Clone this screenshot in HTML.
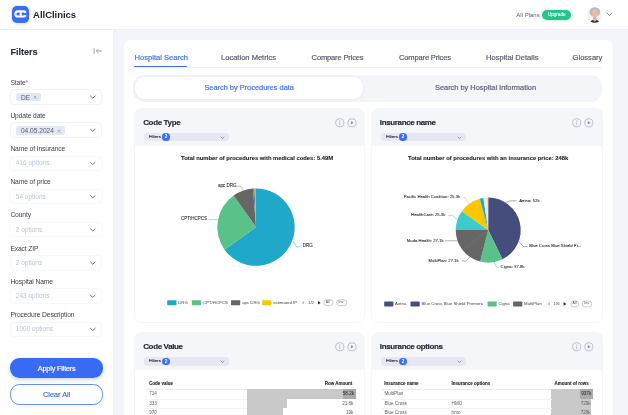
<!DOCTYPE html>
<html>
<head>
<meta charset="utf-8">
<title>AllClinics</title>
<style>
*{box-sizing:border-box;margin:0;padding:0}
html,body{width:628px;height:415px;overflow:hidden}
body{font-family:"Liberation Sans",sans-serif;background:#f4f5fa;color:#2b2e3a;position:relative;-webkit-font-smoothing:antialiased}
.abs{position:absolute}
.t{position:absolute;white-space:nowrap;line-height:1}
/* header */
#hdr{left:0;top:0;width:628px;height:29.5px;background:#fff;border-bottom:1px solid #eff0f5}
#logo{left:12px;top:6px;width:17px;height:17px;border-radius:4.8px;background:#3a6cf6;box-shadow:0 0.5px 3px rgba(61,110,247,.28)}
#brand{left:33.1px;top:9.9px;font-size:9.5px;font-weight:bold;color:#1d2030;letter-spacing:-0.03px}
#plans{left:516.3px;top:11.5px;font-size:6px;color:#5b6070}
#upg{left:542.2px;top:9.8px;width:29px;height:10.4px;border-radius:5px;background:#22c58b;color:#fff;font-size:4.6px;text-align:center;line-height:10.4px;box-shadow:0 0.5px 3px rgba(34,197,139,.35);-webkit-text-stroke:0.1px #fff}
#ava{left:586.5px;top:6.7px;width:16px;height:16px}
/* sidebar */
#side{left:0;top:30px;width:113px;height:385px;background:#fff;box-shadow:1px 0 5px rgba(110,120,170,.06)}
#ftitle{left:10.4px;top:47.9px;font-size:9.2px;font-weight:bold;color:#2a2d3a;letter-spacing:-0.07px;-webkit-text-stroke:0.12px currentColor}
.lbl{left:10.4px;font-size:6.7px;color:#3a3e4c;letter-spacing:-0.1px}
.sel{left:10.4px;width:92px;height:15.6px;border:1px solid #f2f3f8;border-radius:4px;background:#fff}
.sel.f{border-color:#f7f8fc}
.ph{left:15.8px;font-size:6.5px;color:#bcc2df}
.tag{height:8.8px;border-radius:2.6px;background:#e4e8f4;color:#555a6c;font-size:6.6px;line-height:9px;padding-left:4.5px}
.btn{left:10.2px;width:93px;height:20.2px;border-radius:9.5px;font-size:7.3px;text-align:center;line-height:21.4px;-webkit-text-stroke:0.18px currentColor}
#apply{top:357.8px;background:#3a6bf5;color:#fff;box-shadow:0 1.5px 4px rgba(61,110,247,.3);letter-spacing:-0.18px}
#clear{top:383.8px;height:20.9px;background:#fff;color:#3d6ef7;border:0.9px solid #6a8df6;line-height:20.4px}
/* main */
#main{left:124px;top:40px;width:489px;height:390px;background:#fff;border-radius:7px}
.tab{top:53.9px;font-size:7.55px;color:#555a6b;-webkit-text-stroke:0.18px currentColor}
.tab.on{color:#3d6ef7}
#tabline{left:134px;top:66.8px;width:467.5px;height:0.8px;background:#f0f1f6}
#tabon{left:134.3px;top:65.7px;width:53px;height:1.6px;background:#3d6ef7;border-radius:1px}
#sub{left:132.6px;top:75.2px;width:469.6px;height:26.4px;border-radius:11px;background:#f4f5f9}
#subon{left:134.6px;top:77.2px;width:228.6px;height:22.2px;border-radius:9.5px;background:#fff;box-shadow:0 0.5px 3px rgba(40,50,90,.07)}
.st{top:84.4px;font-size:7.4px;-webkit-text-stroke:0.18px currentColor}
.card{background:#f5f6fa;border-radius:7px}
.panel{background:#fff}
.ct{font-size:8px;font-weight:bold;color:#242736;letter-spacing:-0.36px;-webkit-text-stroke:0.15px currentColor}
.pill{height:8.6px;border-radius:3.4px;background:#e5e8f2;width:85px}
.pill .ft{left:4.9px;top:2.1px;font-size:4.4px;color:#23252f;-webkit-text-stroke:0.12px #23252f}
.pill .bd{left:18.4px;top:0.7px;width:7.2px;height:7.2px;border-radius:50%;background:#3d6ef7;color:#fff;font-size:4.6px;line-height:7.2px;text-align:center;font-weight:bold}
.chtitle{font-size:5.85px;font-weight:bold;color:#1a1a1a;-webkit-text-stroke:0.08px #1a1a1a}
.lg{font-size:4.3px;color:#444}
.th{font-size:4.5px;font-weight:bold;color:#262626;-webkit-text-stroke:0.1px #262626}
.td{font-size:4.6px;color:#606060}
.bar{background:#c9c9c9}
.pl{font-size:4.5px;color:#262626;-webkit-text-stroke:0.07px #262626}
.p2{font-size:4.25px}
.lg2{font-size:3.6px;color:#555}
.so{color:#c4c4c4;font-weight:normal;font-size:3.8px;-webkit-text-stroke:0 transparent}
</style>
</head>
<body>
<div id="wrap" style="position:absolute;left:0;top:0;width:628px;height:415px;will-change:transform">
<!-- HEADER -->
<div id="hdr" class="abs"></div>
<div id="logo" class="abs">
<svg width="17" height="17" viewBox="12 6 17 17"><g fill="none" stroke="#fff" stroke-width="2.1" stroke-linecap="butt"><path d="M25.75 12.7A2.6 2.6 0 0 0 23.2 11.35H17.95A2.6 2.6 0 0 0 17.95 16.55H23.2A2.6 2.6 0 0 0 25.75 15.2"/><path d="M20.6 11.35V16.55"/></g></svg>
</div>
<div id="brand" class="t">AllClinics</div>
<div id="plans" class="t">All Plans</div>
<div id="upg" class="abs">Upgrade</div>
<div id="ava" class="abs">
<svg width="16" height="16" viewBox="586.5 6.7 16 16"><defs><clipPath id="avc"><circle cx="594.3" cy="14.7" r="7.8"/></clipPath></defs><g clip-path="url(#avc)"><rect x="586" y="6" width="17" height="17" fill="#f6f4f3"/><ellipse cx="594.3" cy="11.6" rx="5.3" ry="4.9" fill="#c3bab5"/><path d="M589.2 23C589.4 20.6 591.6 19.8 592.8 19.6L594.3 21.3L595.8 19.6C597 19.8 599.2 20.6 599.4 23Z" fill="#2b2b30"/><path d="M592.7 16H595.9V19.8L594.3 21.4L592.7 19.8Z" fill="#dcae98"/><ellipse cx="594.3" cy="13.2" rx="2.9" ry="4.1" fill="#e4bba7"/><path d="M591.3 11.6C591.6 8.6 597 8.6 597.3 11.6C596.4 10.3 592.2 10.3 591.3 11.6Z" fill="#cfc7c2"/></g></svg>
</div>
<svg class="abs" style="left:605.5px;top:12.2px" width="7" height="5" viewBox="0 0 7 5"><path d="M1 1L3.5 3.5L6 1" fill="none" stroke="#777d90" stroke-width="0.85" stroke-linecap="round" stroke-linejoin="round"/></svg>

<!-- SIDEBAR -->
<div id="side" class="abs"></div>
<div id="ftitle" class="t">Filters</div>
<svg class="abs" style="left:92.5px;top:47.4px" width="10" height="8" viewBox="0 0 10 8"><g fill="none" stroke="#858b9e" stroke-width="0.75" stroke-linecap="round" stroke-linejoin="round"><path d="M1.2 1.4V6.6"/><path d="M3.3 4H8.6"/><path d="M5.1 2.2L3.3 4L5.1 5.8"/></g></svg>

<div class="t lbl" style="top:79.5px">State<span style="color:#e2555c">*</span></div>
<div class="abs sel" style="top:89.1px"></div>
<div class="abs tag" style="left:16.4px;top:92.6px;width:24.2px">DE<span style="color:#8a90a6;font-size:5.2px;margin-left:3px;position:relative;top:-0.3px">✕</span></div>
<div class="t lbl" style="top:112.7px">Update date</div>
<div class="abs sel" style="top:122.3px"></div>
<div class="abs tag" style="left:16.4px;top:125.8px;width:48.2px">04.05.2024<span style="color:#8a90a6;font-size:5.2px;margin-left:3px;position:relative;top:-0.3px">✕</span></div>

<div class="t lbl" style="top:145.9px">Name of Insurance</div>
<div class="abs sel f" style="top:155.5px"></div>
<div class="t ph" style="top:160.3px">416 options</div>
<div class="t lbl" style="top:179.1px">Name of price</div>
<div class="abs sel f" style="top:188.7px"></div>
<div class="t ph" style="top:193.5px">54 options</div>
<div class="t lbl" style="top:212.3px">County</div>
<div class="abs sel f" style="top:221.9px"></div>
<div class="t ph" style="top:226.8px">2 options</div>
<div class="t lbl" style="top:245.5px">Exact ZIP</div>
<div class="abs sel f" style="top:255.1px"></div>
<div class="t ph" style="top:259.9px">2 options</div>
<div class="t lbl" style="top:278.7px">Hospital Name</div>
<div class="abs sel f" style="top:288.3px"></div>
<div class="t ph" style="top:293.2px">243 options</div>
<div class="t lbl" style="top:311.9px">Procedure Description</div>
<div class="abs sel f" style="top:321.5px"></div>
<div class="t ph" style="top:326.4px">1000 options</div>

<svg class="abs" style="left:0;top:0" width="114" height="415" viewBox="0 0 114 415"><g fill="none" stroke="#60667a" stroke-width="0.95" stroke-linecap="round" stroke-linejoin="round">
<path d="M90.5 96.0l2.3 2.2l2.3-2.2"/><path d="M90.5 129.2l2.3 2.2l2.3-2.2"/><path d="M90.5 162.4l2.3 2.2l2.3-2.2"/><path d="M90.5 195.6l2.3 2.2l2.3-2.2"/><path d="M90.5 228.8l2.3 2.2l2.3-2.2"/><path d="M90.5 262.0l2.3 2.2l2.3-2.2"/><path d="M90.5 295.2l2.3 2.2l2.3-2.2"/><path d="M90.5 328.4l2.3 2.2l2.3-2.2"/></g></svg>

<div id="apply" class="abs btn">Apply Filters</div>
<div id="clear" class="abs btn">Clear All</div>

<!-- MAIN -->
<div id="main" class="abs"></div>
<div id="tabline" class="abs"></div>
<div id="tabon" class="abs"></div>
<div class="t tab on" style="left:134.6px">Hospital Search</div>
<div class="t tab" style="left:221px">Location Metrics</div>
<div class="t tab" style="left:311.6px;letter-spacing:-0.16px">Compare Prices</div>
<div class="t tab" style="left:399px;letter-spacing:-0.16px">Compare Prices</div>
<div class="t tab" style="left:486px">Hospital Details</div>
<div class="t tab" style="left:572.6px">Glossary</div>
<div id="sub" class="abs"></div>
<div id="subon" class="abs"></div>
<div class="t st" style="left:204.4px;color:#3d6ef7">Search by Procedures data</div>
<div class="t st" style="left:435px;color:#585d72">Search by Hospital Information</div>

<!-- CARD 1 -->
<div class="abs card" style="left:134.2px;top:108.3px;width:231.2px;height:214.4px"></div>
<div class="abs panel" style="left:135.2px;top:145.6px;width:229.2px;height:176.2px;border-radius:0 0 6px 6px"></div>
<div class="t ct" style="left:143.2px;top:119.1px">Code Type</div>
<div class="abs pill" style="left:144px;top:132.8px"><div class="t ft">Filters</div><div class="abs bd">2</div>
<svg class="abs" style="left:75.6px;top:2.8px" width="5" height="3.4" viewBox="0 0 5 3.4"><path d="M0.7 0.8L2.5 2.5L4.3 0.8" fill="none" stroke="#6a7085" stroke-width="0.7"/></svg></div>
<div class="t chtitle" style="left:181px;top:155.8px">Total number of procedures with medical codes: 5.49M</div>

<!-- CARD 2 -->
<div class="abs card" style="left:371.3px;top:108.3px;width:231.4px;height:214.4px"></div>
<div class="abs panel" style="left:372.3px;top:145.6px;width:229.4px;height:176.2px;border-radius:0 0 6px 6px"></div>
<div class="t ct" style="left:379.8px;top:119.2px">Insurance name</div>
<div class="abs pill" style="left:381px;top:132.8px"><div class="t ft">Filters</div><div class="abs bd">2</div>
<svg class="abs" style="left:75.6px;top:2.8px" width="5" height="3.4" viewBox="0 0 5 3.4"><path d="M0.7 0.8L2.5 2.5L4.3 0.8" fill="none" stroke="#6a7085" stroke-width="0.7"/></svg></div>
<div class="t chtitle" style="left:408px;top:155.8px">Total number of procedures with an insurance price: 248k</div>

<!-- CARD 3 -->
<div class="abs card" style="left:134.2px;top:332.3px;width:231.2px;height:100px"></div>
<div class="abs panel" style="left:135.2px;top:369.8px;width:229.2px;height:60px"></div>
<div class="t ct" style="left:143.2px;top:343.3px">Code Value</div>
<div class="abs pill" style="left:144px;top:357.1px"><div class="t ft">Filters</div><div class="abs bd">2</div>
<svg class="abs" style="left:75.6px;top:2.8px" width="5" height="3.4" viewBox="0 0 5 3.4"><path d="M0.7 0.8L2.5 2.5L4.3 0.8" fill="none" stroke="#6a7085" stroke-width="0.7"/></svg></div>

<!-- CARD 4 -->
<div class="abs card" style="left:371.3px;top:332.3px;width:231.4px;height:100px"></div>
<div class="abs panel" style="left:372.3px;top:369.8px;width:229.4px;height:60px"></div>
<div class="t ct" style="left:379.8px;top:343.3px">Insurance options</div>
<div class="abs pill" style="left:381px;top:357.1px"><div class="t ft">Filters</div><div class="abs bd">2</div>
<svg class="abs" style="left:75.6px;top:2.8px" width="5" height="3.4" viewBox="0 0 5 3.4"><path d="M0.7 0.8L2.5 2.5L4.3 0.8" fill="none" stroke="#6a7085" stroke-width="0.7"/></svg></div>

<svg class="abs" style="left:0;top:0;pointer-events:none" width="628" height="415" viewBox="0 0 628 415">
<g id="hicons" fill="none" stroke="#8e94a8" stroke-width="0.55">
<g id="ic"><circle cx="339.8" cy="122.8" r="4.05"/><path d="M339.8 122.2V124.8M339.8 120.7V121.1" stroke-linecap="round"/><circle cx="352" cy="122.8" r="4.05"/><path d="M350.9 121L353.7 122.8L350.9 124.6Z" fill="#8e94a8" stroke="none"/></g>
<g transform="translate(236.9 0)"><circle cx="339.8" cy="122.8" r="4.05"/><path d="M339.8 122.2V124.8M339.8 120.7V121.1" stroke-linecap="round"/><circle cx="352" cy="122.8" r="4.05"/><path d="M350.9 121L353.7 122.8L350.9 124.6Z" fill="#8e94a8" stroke="none"/></g><g transform="translate(0 224)"><circle cx="339.8" cy="122.8" r="4.05"/><path d="M339.8 122.2V124.8M339.8 120.7V121.1" stroke-linecap="round"/><circle cx="352" cy="122.8" r="4.05"/><path d="M350.9 121L353.7 122.8L350.9 124.6Z" fill="#8e94a8" stroke="none"/></g><g transform="translate(236.9 224)"><circle cx="339.8" cy="122.8" r="4.05"/><path d="M339.8 122.2V124.8M339.8 120.7V121.1" stroke-linecap="round"/><circle cx="352" cy="122.8" r="4.05"/><path d="M350.9 121L353.7 122.8L350.9 124.6Z" fill="#8e94a8" stroke="none"/></g>
</g>
<!-- pies -->
<path d="M256 227.1L256.00 188.40A38.7 38.7 0 1 1 224.53 249.63Z" fill="#1FA8C9"/>
<path d="M256 227.1L224.53 249.63A38.7 38.7 0 0 1 233.58 195.55Z" fill="#5AC189"/>
<path d="M256 227.1L233.58 195.55A38.7 38.7 0 0 1 253.03 188.51Z" fill="#666666"/>
<path d="M256 227.1L253.03 188.51A38.7 38.7 0 0 1 254.65 188.42Z" fill="#6f7f95"/>
<path d="M256 227.1L254.65 188.42A38.7 38.7 0 0 1 255.53 188.40Z" fill="#FCC700"/>
<path d="M256 227.1L255.53 188.40A38.7 38.7 0 0 1 256.00 188.40Z" fill="#E04355"/>
<!-- pie2 -->
<path d="M488.2 230.1L488.20 197.60A32.5 32.5 0 0 1 502.45 259.31Z" fill="#444d7c"/>
<path d="M488.2 230.1L502.45 259.31A32.5 32.5 0 0 1 480.17 261.59Z" fill="#5AC189"/>
<path d="M488.2 230.1L480.17 261.59A32.5 32.5 0 0 1 455.70 230.10Z" fill="#666666"/>
<path d="M488.2 230.1L462.59 250.11" stroke="#7c7c7c" stroke-width="0.35" fill="none"/>
<path d="M488.2 230.1L455.70 230.10A32.5 32.5 0 0 1 461.81 211.13Z" fill="#3CCCCB"/>
<path d="M488.2 230.1L461.81 211.13A32.5 32.5 0 0 1 479.79 198.71Z" fill="#FCC700"/>
<path d="M488.2 230.1L479.79 198.71A32.5 32.5 0 0 1 483.40 197.96Z" fill="#1FA8C9"/>
<path d="M488.2 230.1L483.40 197.96A32.5 32.5 0 0 1 485.09 197.75Z" fill="#d1f0ee"/>
<path d="M488.2 230.1L485.09 197.75A32.5 32.5 0 0 1 486.78 197.63Z" fill="#fde6c9"/>
<path d="M488.2 230.1L486.78 197.63A32.5 32.5 0 0 1 488.20 197.60Z" fill="#f7d3d0"/>

<!-- leader lines pie1 -->
<g fill="none" stroke-width="0.5">
<path d="M243.2 190.6L240.6 186.2H236.4" stroke="#888"/>
<path d="M217.6 219.6H208.8" stroke="#5AC189"/>
<path d="M292.8 241.4L296.6 246.7H300.4" stroke="#1FA8C9"/>
<!-- pie2 -->
<path d="M505.4 202.5L510.4 200.8H516.4" stroke="#454E7C"/>
<path d="M518.8 241.2L523.2 246.4H527.4" stroke="#454E7C"/>
<path d="M494.2 262L496.4 267.2H499.2" stroke="#5AC189"/>
<path d="M469.8 257L466.2 261H461.8" stroke="#666"/>
<path d="M457.4 240.8H445" stroke="#666"/>
<path d="M457 219.6L452.6 215.4H448" stroke="#3CCCCB"/>
<path d="M468.8 204L465 197.7H462.4" stroke="#FCC700"/>
</g>
<!-- legend swatches 1 -->
<g>
<rect x="167.2" y="300.2" width="9.2" height="5" rx="0.6" fill="#1FA8C9"/>
<rect x="191.8" y="300.2" width="9.2" height="5" rx="0.6" fill="#5AC189"/>
<rect x="231" y="300.2" width="9.2" height="5" rx="0.6" fill="#666666"/>
<rect x="262.2" y="300.2" width="9.2" height="5" rx="0.6" fill="#FCC700"/>
<path d="M304.2 300.9V304.5L301.6 302.7Z" fill="#bbb"/>
<path d="M318 300.9V304.5L320.6 302.7Z" fill="#222"/>
<rect x="323.8" y="299.8" width="9.2" height="5.8" rx="2.9" fill="#fff" stroke="#8a8a8a" stroke-width="0.45"/>
<rect x="336.6" y="299.8" width="10.2" height="5.8" rx="2.9" fill="#fff" stroke="#8a8a8a" stroke-width="0.45"/>
</g>
<!-- legend swatches 2 -->
<g>
<rect x="384.2" y="301.4" width="9.2" height="5" rx="0.6" fill="#454E7C"/>
<rect x="410.5" y="301.4" width="9.2" height="5" rx="0.6" fill="#434c7d"/>
<rect x="487.5" y="301.4" width="9.2" height="5" rx="0.6" fill="#5AC189"/>
<rect x="513.1" y="301.4" width="9.2" height="5" rx="0.6" fill="#666666"/>
<path d="M550 302.1V305.7L547.4 303.9Z" fill="#bbb"/>
<path d="M563.6 302.1V305.7L566.2 303.9Z" fill="#222"/>
<rect x="570.8" y="301" width="8" height="5.8" rx="2.9" fill="#fff" stroke="#8a8a8a" stroke-width="0.45"/>
<rect x="582" y="301" width="9.8" height="5.8" rx="2.9" fill="#fff" stroke="#8a8a8a" stroke-width="0.45"/>
</g>
</svg>
<!-- pie labels -->
<div class="t pl" style="left:218.1px;top:183.8px">apc DRG</div>
<div class="t pl" style="left:181px;top:217.2px">CPT/HCPCS</div>
<div class="t pl" style="left:302.8px;top:244.4px">DRG</div>
<div class="t pl p2" style="left:403.7px;top:195.4px">Pacific Health Coalition: 25.3k</div>
<div class="t pl p2" style="left:411.1px;top:213.1px">HealthCare: 25.3k</div>
<div class="t pl p2" style="left:406.8px;top:238.5px">Moda Health: 27.1k</div>
<div class="t pl p2" style="left:428.5px;top:258.7px">MultiPlan: 27.1k</div>
<div class="t pl p2" style="left:500.6px;top:264.9px">Cigna: 37.8k</div>
<div class="t pl p2" style="left:529.2px;top:244.1px">Blue Cross Blue Shield Pr...</div>
<div class="t pl p2" style="left:519.2px;top:198.5px">Aetna: 52k</div>
<!-- legends text -->
<div class="t lg" style="left:178.2px;top:300.6px">DRG</div>
<div class="t lg" style="left:203px;top:300.6px">CPT/HCPCS</div>
<div class="t lg" style="left:242.2px;top:300.6px">apc DRG</div>
<div class="t lg" style="left:273.2px;top:300.6px">estimated IP</div>
<div class="t lg" style="left:308px;top:300.6px">1/2</div>
<div class="t lg2" style="left:325.8px;top:301.2px">All</div>
<div class="t lg2" style="left:338.6px;top:301.2px">Inv</div>
<div class="t lg" style="left:395.1px;top:301.8px">Aetna</div>
<div class="t lg" style="left:421.5px;top:301.8px">Blue Cross Blue Shield Premera</div>
<div class="t lg" style="left:498.4px;top:301.8px">Cigna</div>
<div class="t lg" style="left:524.1px;top:301.8px">MultiPlan</div>
<div class="t lg" style="left:553.6px;top:301.8px">1/6</div>
<div class="t lg2" style="left:572.6px;top:302.4px">All</div>
<div class="t lg2" style="left:584.2px;top:302.4px">Inv</div>

<!-- TABLE 1 -->
<div class="abs" style="left:145px;top:388.6px;width:211px;height:0.5px;background:#ebebeb"></div>
<div class="abs bar" style="left:247.3px;top:389.1px;width:108.5px;height:9.8px"></div>
<div class="abs" style="left:342.7px;top:389.1px;width:13.1px;height:9.7px;background:#aaa"></div>
<div class="abs bar" style="left:247.3px;top:398.8px;width:39.6px;height:9.7px"></div>
<div class="abs bar" style="left:247.3px;top:408.4px;width:36px;height:9.7px"></div>
<div class="abs" style="left:145px;top:398.7px;width:102px;height:0.4px;background:#f3f3f3"></div>
<div class="abs" style="left:145px;top:408.3px;width:102px;height:0.4px;background:#f3f3f3"></div>
<div class="t th" style="left:149px;top:382.2px">Code value <span class="so">↕</span></div>
<div class="t th" style="left:324.7px;top:382.2px">Row Amount <span class="so">↕</span></div>
<div class="t td" style="left:149.2px;top:392px">714</div>
<div class="t td" style="left:149.2px;top:401.6px">333</div>
<div class="t td" style="left:149.2px;top:411.2px">970</div>
<div class="t td r" style="right:274px;top:392px;color:#222">58.2k</div>
<div class="t td r" style="right:274.6px;top:401.6px">21.8k</div>
<div class="t td r" style="right:274.6px;top:411.2px">19k</div>

<!-- TABLE 2 -->
<div class="abs" style="left:381.5px;top:388.6px;width:211.5px;height:0.5px;background:#ebebeb"></div>
<div class="abs bar" style="left:550.8px;top:389.1px;width:41.8px;height:9.8px"></div>
<div class="abs" style="left:580px;top:389.1px;width:12.6px;height:9.7px;background:#aaa"></div>
<div class="abs bar" style="left:550.8px;top:398.8px;width:40.2px;height:9.7px"></div>
<div class="abs bar" style="left:550.8px;top:408.4px;width:40.2px;height:9.7px"></div>
<div class="abs" style="left:381.5px;top:398.7px;width:170px;height:0.4px;background:#f3f3f3"></div>
<div class="abs" style="left:381.5px;top:408.3px;width:170px;height:0.4px;background:#f3f3f3"></div>
<div class="t th" style="left:384.2px;top:382.2px">Insurance name <span class="so">↕</span></div>
<div class="t th" style="left:451.4px;top:382.2px">Insurance options <span class="so">↕</span></div>
<div class="t th" style="left:554.5px;top:382.2px">Amount of rows <span class="so">↕</span></div>
<div class="t td" style="left:384.4px;top:392px">MultiPlan</div>
<div class="t td" style="left:384.4px;top:401.6px">Blue Cross</div>
<div class="t td" style="left:384.4px;top:411.2px">Blue Cross</div>
<div class="t td" style="left:451.6px;top:401.6px">HMO</div>
<div class="t td" style="left:451.6px;top:411.2px">hmo</div>
<div class="t td r" style="right:36.8px;top:392px;color:#222">937k</div>
<div class="t td r" style="right:37.4px;top:401.6px">729k</div>
<div class="t td r" style="right:37.4px;top:411.2px">729k</div>

</div>
</body>
</html>
